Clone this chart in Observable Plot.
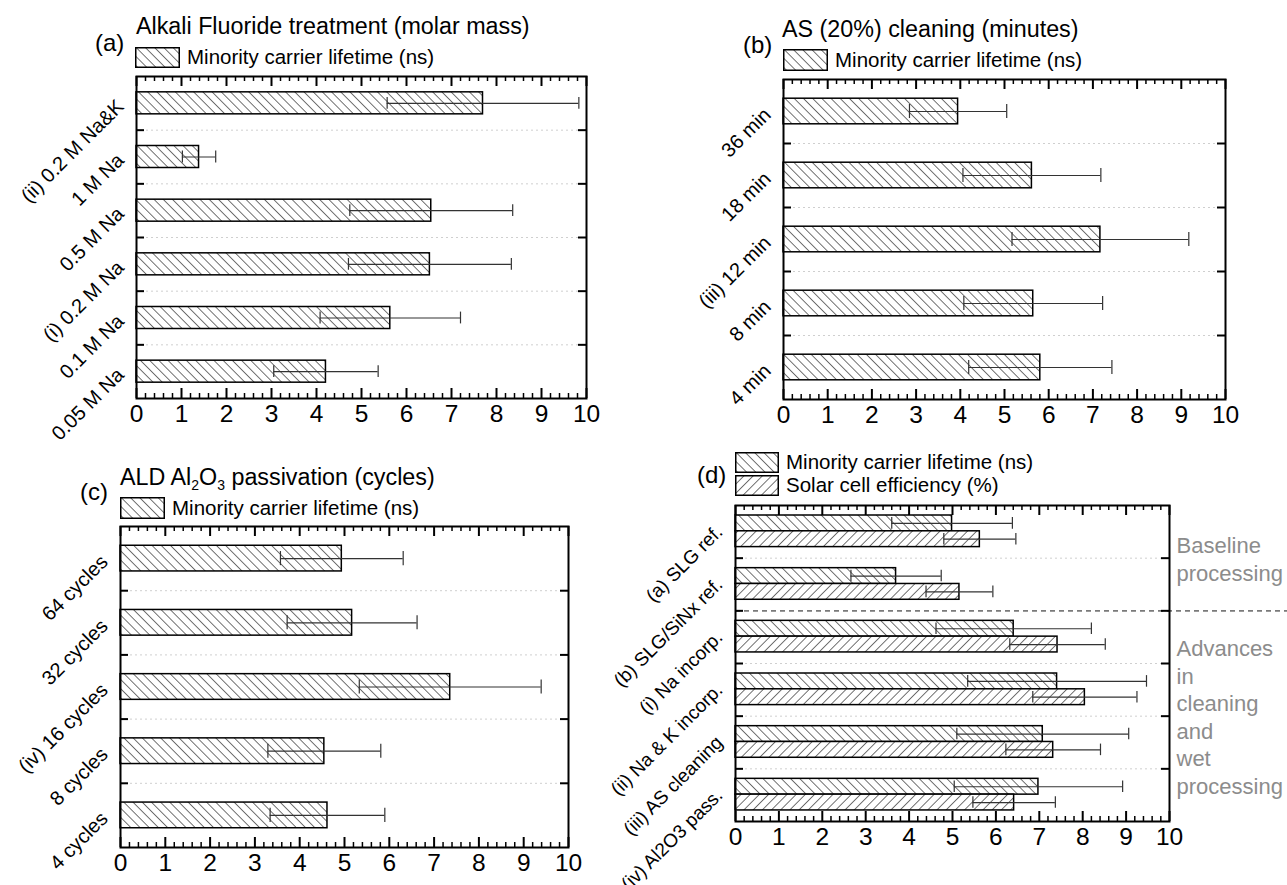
<!DOCTYPE html>
<html><head><meta charset="utf-8">
<script src="https://cdn.jsdelivr.net/npm/d3@7"></script>
<script src="https://cdn.jsdelivr.net/npm/@observablehq/plot@0.6"></script>
<style>
body{margin:0;background:#fff;font-family:"Liberation Sans",Arial,sans-serif;color:#000;}
#root{position:relative;width:1287px;height:885px;overflow:hidden;background:#fff;}
.abs{position:absolute;white-space:nowrap;line-height:1;}
.plab{font-size:24px;}
.title{font-size:23.3px;}
.leg{display:flex;align-items:center;font-size:20.5px;}
.leg svg{margin-right:7px;display:block;}
sub{font-size:14px;vertical-align:-5px;line-height:0;}
</style></head>
<body>
<svg width="0" height="0" style="position:absolute">
  <defs>
    <pattern id="hatchL" patternUnits="userSpaceOnUse" width="6.5" height="6.5" patternTransform="rotate(-45)">
      <rect width="6.5" height="6.5" fill="#fff"/>
      <line x1="0" y1="0" x2="0" y2="6.5" stroke="#000" stroke-width="1.1"/>
    </pattern>
    <pattern id="hatchE" patternUnits="userSpaceOnUse" width="6.5" height="6.5" patternTransform="rotate(45)">
      <rect width="6.5" height="6.5" fill="#fff"/>
      <line x1="0" y1="0" x2="0" y2="6.5" stroke="#000" stroke-width="1.1"/>
    </pattern>
  </defs>
</svg>
<div id="root"></div>
<script>
// ---------- data ----------
const xTicks = [0,1,2,3,4,5,6,7,8,9,10];

const catsA = ["(ii) 0.2 M Na&K","1 M Na","0.5 M Na","(i) 0.2 M Na","0.1 M Na","0.05 M Na"];
const lifeA = [7.70, 1.39, 6.55, 6.52, 5.64, 4.21];
const errA  = [2.13, 0.37, 1.81, 1.81, 1.56, 1.16];

const catsB = ["36 min","18 min","(iii) 12 min","8 min","4 min"];
const lifeB = [3.95, 5.62, 7.17, 5.65, 5.81];
const errB  = [1.10, 1.56, 2.00, 1.57, 1.62];

const catsC = ["64 cycles","32 cycles","(iv) 16 cycles","8 cycles","4 cycles"];
const lifeC = [4.94, 5.17, 7.36, 4.55, 4.62];
const errC  = [1.37, 1.45, 2.03, 1.26, 1.28];

const catsD = ["(a) SLG ref.","(b) SLG/SiNx ref.","(i) Na incorp.","(ii) Na & K incorp.","(iii) AS cleaning","(iv) Al2O3 pass."];
const lifeD    = [4.99, 3.70, 6.41, 7.41, 7.08, 6.98];
const lifeErrD = [1.39, 1.04, 1.79, 2.06, 1.98, 1.94];
const effD     = [5.63, 5.16, 7.42, 8.05, 7.32, 6.42];
const effErrD  = [0.83, 0.77, 1.10, 1.20, 1.09, 0.95];

const seriesNames = ["Minority carrier lifetime (ns)", "Solar cell efficiency (%)"];
const groupNotes = ["Baseline\nprocessing", "Advances\nin\ncleaning\nand\nwet\nprocessing"];

// ---------- helpers ----------
const root = document.getElementById("root");
function place(el, left, top) {
  const d = document.createElement("div");
  d.className = "abs";
  d.style.left = left + "px"; d.style.top = top + "px";
  d.appendChild(el);
  root.appendChild(d);
  return d;
}
function html(cls, inner, left, top) {
  const d = document.createElement("div");
  d.className = "abs " + cls;
  d.style.left = left + "px"; d.style.top = top + "px";
  d.innerHTML = inner;
  root.appendChild(d);
  return d;
}
function swatch(pat, w, h) {
  return `<svg width="${w}" height="${h}"><rect x="0.75" y="0.75" width="${w-1.5}" height="${h-1.5}" fill="url(#${pat})" stroke="#000" stroke-width="1.5"/></svg>`;
}

function panel({cats, series, width, height, ml, mr, mt, mb, dashAt = null, notes = null, catSize = 20, catDy = 0}) {
  const n = cats.length;
  const W = width - ml - mr, H = height - mt - mb;
  const idx = d3.range(n);
  const bounds = d3.range(n - 1).map(i => i + 0.5);
  const minors = d3.range(0, 50).map(k => k * 0.2).filter(v => Math.abs(v - Math.round(v)) > 1e-6);
  const cap = 0.11;
  const marks = [];
  marks.push(Plot.ruleY(bounds.filter(b => b !== dashAt), {y: d => d, stroke: "#cfcfcf", strokeWidth: 1, strokeDasharray: "2,3"}));
  if (dashAt !== null) {
    const xEdge = 10 * (width - ml) / W;
    marks.push(Plot.ruleY([dashAt], {y: d => d, x1: 0, x2: xEdge, stroke: "#7a7a7a", strokeWidth: 1.6, strokeDasharray: "5,4"}));
  }
  for (const s of series) {
    const rows = idx.map(i => ({
      y1: i + s.off[0], y2: i + s.off[1], yc: i + (s.off[0] + s.off[1]) / 2,
      v: s.values[i], lo: s.values[i] - s.err[i], hi: s.values[i] + s.err[i]
    }));
    marks.push(Plot.rect(rows, {x1: 0, x2: "v", y1: "y1", y2: "y2", fill: `url(#${s.pattern})`, stroke: "#000", strokeWidth: 1.5}));
    marks.push(Plot.ruleY(rows, {y: "yc", x1: "lo", x2: "hi", stroke: "#333", strokeWidth: 1.2}));
    marks.push(Plot.ruleX(rows, {x: "lo", y1: d => d.yc - cap, y2: d => d.yc + cap, stroke: "#333", strokeWidth: 1.2}));
    marks.push(Plot.ruleX(rows, {x: "hi", y1: d => d.yc - cap, y2: d => d.yc + cap, stroke: "#333", strokeWidth: 1.2}));
  }
  // x ticks (inward, mirrored)
  marks.push(Plot.tickX(xTicks, {x: d => d, insetTop: H - 10, stroke: "#000", strokeWidth: 2}));
  marks.push(Plot.tickX(xTicks, {x: d => d, insetBottom: H - 10, stroke: "#000", strokeWidth: 2}));
  marks.push(Plot.tickX(minors, {x: d => d, insetTop: H - 5, stroke: "#000", strokeWidth: 1.5}));
  marks.push(Plot.tickX(minors, {x: d => d, insetBottom: H - 5, stroke: "#000", strokeWidth: 1.5}));
  // y ticks at category boundaries
  marks.push(Plot.tickY(bounds, {y: d => d, insetRight: W - 8, stroke: "#000", strokeWidth: 2}));
  marks.push(Plot.tickY(bounds, {y: d => d, insetLeft: W - 8, stroke: "#000", strokeWidth: 2}));
  // category labels
  marks.push(Plot.text(idx, {y: d => d, text: d => cats[d], frameAnchor: "left", textAnchor: "end", rotate: -45, dx: -16, dy: catDy, fontSize: catSize, fill: "#000"}));
  // x tick labels
  marks.push(Plot.text(xTicks, {x: d => d, text: d => String(d), frameAnchor: "bottom", dy: 23.5, fontSize: 24.5, fill: "#000"}));
  if (notes) {
    marks.push(Plot.text(notes, {y: d => d.y, text: d => d.t, frameAnchor: "right", textAnchor: "start", dx: 7, fontSize: 22, lineHeight: 1.25, fill: "#8c8c8c"}));
  }
  marks.push(Plot.frame({stroke: "#000", strokeWidth: 2}));
  return Plot.plot({
    width, height, marginLeft: ml, marginRight: mr, marginTop: mt, marginBottom: mb,
    x: {domain: [0, 10], axis: null},
    y: {domain: [-0.5, n - 0.5], reverse: true, axis: null},
    style: {background: "none", overflow: "visible", maxWidth: "none", fontFamily: "'Liberation Sans', Arial, sans-serif"},
    marks
  });
}

// ---------- panel (a) ----------
place(panel({cats: catsA, width: 610, height: 440, ml: 136, mr: 24, mt: 76, mb: 42,
  series: [{values: lifeA, err: errA, pattern: "hatchL", off: [-0.205, 0.205]}]}), 0, 0);
html("plab", "(a)", 95, 31);
html("title", "Alkali Fluoride treatment (molar mass)", 136, 14.5);
html("leg", swatch("hatchL", 45, 21) + `<span>${seriesNames[0]}</span>`, 135, 47);

// ---------- panel (b) ----------
place(panel({cats: catsB, width: 620, height: 440, ml: 143, mr: 35, mt: 79, mb: 41,
  series: [{values: lifeB, err: errB, pattern: "hatchL", off: [-0.2, 0.2]}]}), 640, 0);
html("plab", "(b)", 743, 33);
html("title", "AS (20%) cleaning (minutes)", 782, 17.5);
html("leg", swatch("hatchL", 45, 22) + `<span>${seriesNames[0]}</span>`, 783, 49);

// ---------- panel (c) ----------
place(panel({cats: catsC, width: 600, height: 445, ml: 120, mr: 32, mt: 86, mb: 38,
  series: [{values: lifeC, err: errC, pattern: "hatchL", off: [-0.2, 0.2]}]}), 0, 440);
html("plab", "(c)", 80, 480);
html("title", "ALD Al<sub>2</sub>O<sub>3</sub> passivation (cycles)", 120, 465.5);
html("leg", swatch("hatchL", 45, 22) + `<span>${seriesNames[0]}</span>`, 120, 497);

// ---------- panel (d) ----------
place(panel({cats: catsD, width: 707, height: 445, ml: 155, mr: 118, mt: 65, mb: 64, dashAt: 1.5, catSize: 19, catDy: -3,
  notes: [{t: groupNotes[0], y: 0.5}, {t: groupNotes[1], y: 3.5}],
  series: [
    {values: lifeD, err: lifeErrD, pattern: "hatchL", off: [-0.31, -0.01]},
    {values: effD, err: effErrD, pattern: "hatchE", off: [-0.01, 0.29]}
  ]}), 580, 440);
html("plab", "(d)", 697, 463);
html("leg", swatch("hatchL", 44, 21) + `<span>${seriesNames[0]}</span>`, 735, 452);
html("leg", swatch("hatchE", 44, 21) + `<span>${seriesNames[1]}</span>`, 735, 475);
</script>
</body></html>
